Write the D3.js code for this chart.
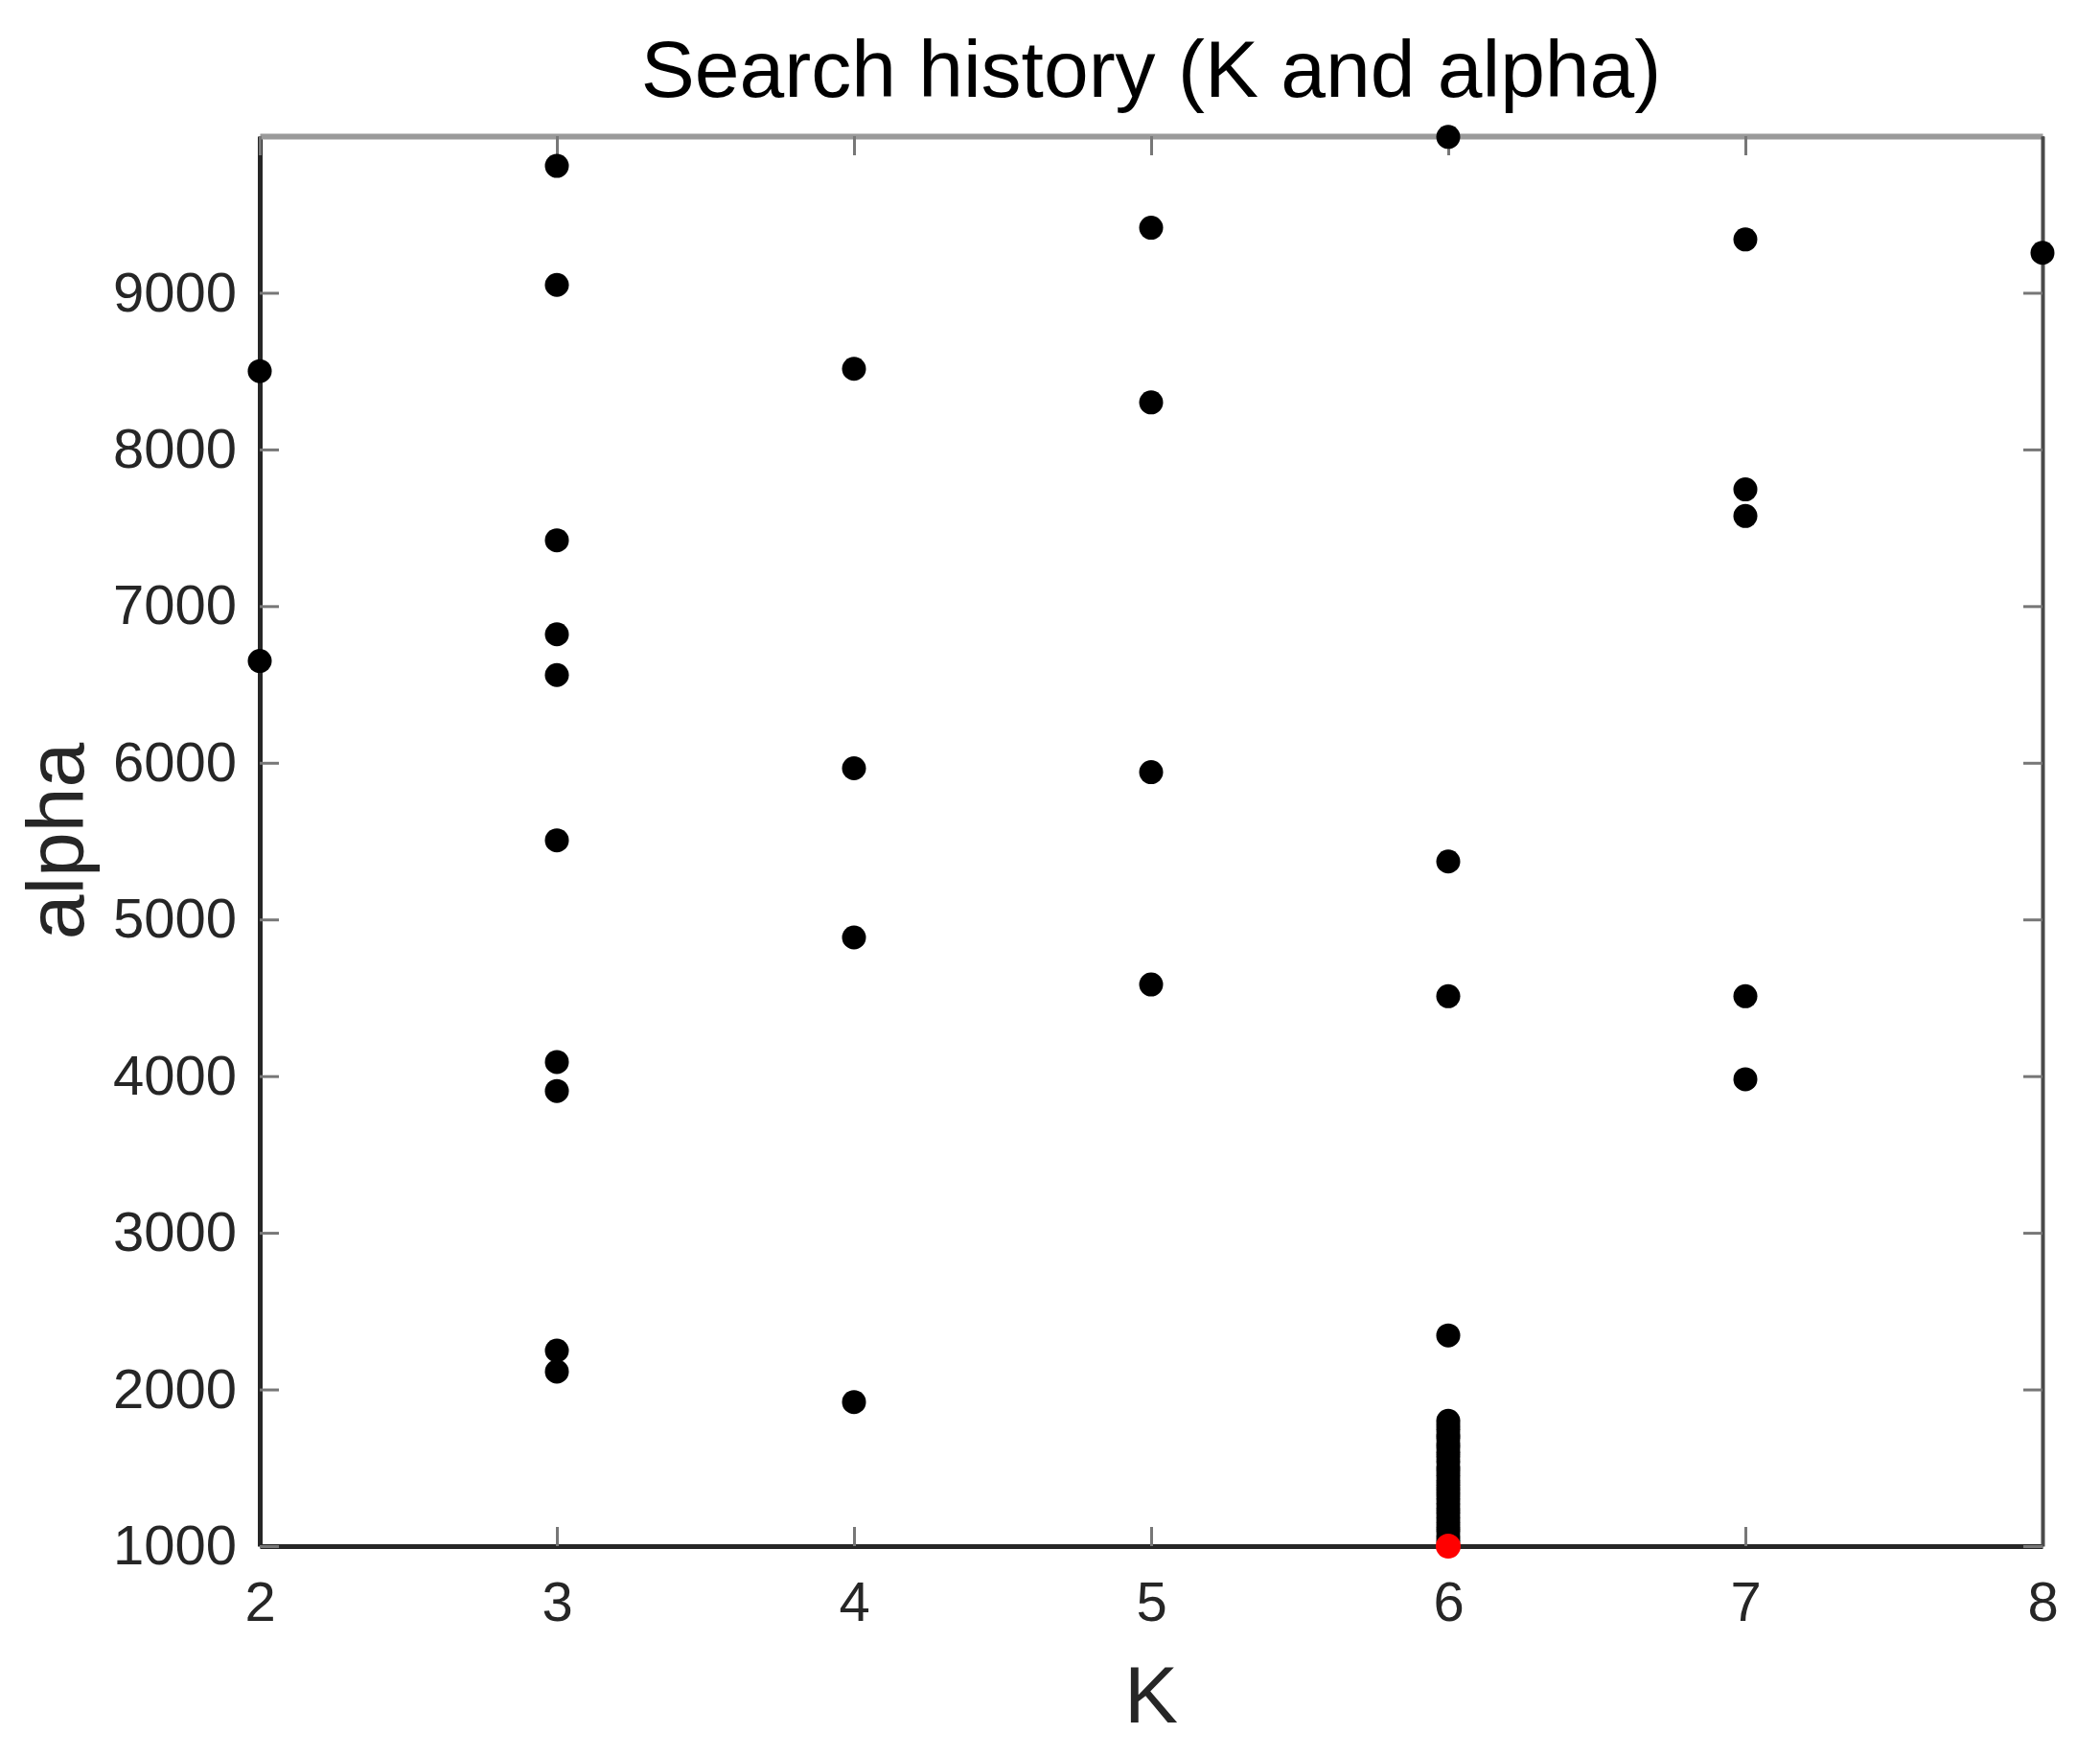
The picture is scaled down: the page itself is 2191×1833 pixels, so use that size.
<!DOCTYPE html>
<html lang="en">
<head>
  <meta charset="UTF-8" />
  <title>Search history (K and alpha)</title>

  <!-- D3.js from a CDN (version 7) -->
  <script src="https://d3js.org/d3.v7.min.js"></script>

  <style>
    html, body {
      margin: 0;
      padding: 0;
      background: #fff;
      overflow: hidden;
      font-family: "Liberation Sans", Arial, sans-serif;
    }
  </style>
</head>
<body>
  <div id="chart"></div>

  <script>
    /**************************************************************
     *                        DATA
     **************************************************************/
    // alpha values tried for each K
    const alphaK2 = [8500, 6650];
    const alphaK3 = [9810, 9050, 7420, 6820, 6560, 5505, 4090, 3905, 2248, 2114];
    const alphaK4 = [8515, 5965, 4885, 1920];
    const alphaK5 = [9415, 8300, 5940, 4585];
    const alphaK6 = [9995, 5370, 4510, 2345,
                     1800, 1772, 1745, 1712, 1690, 1655, 1630, 1598, 1570,
                     1540, 1505, 1480, 1450, 1418, 1390, 1360, 1330, 1302,
                     1270, 1240, 1212, 1180, 1150, 1120, 1095, 1062, 1035];
    const alphaK7 = [9340, 7745, 7575, 4510, 3980];
    const alphaK8 = [9255];

    // best point found (drawn in red)
    const bestK = 6;
    const bestAlpha = 1000;

    // axis ticks
    const xTicks = [2, 3, 4, 5, 6, 7, 8];
    const yTicks = [1000, 2000, 3000, 4000, 5000, 6000, 7000, 8000, 9000];

    // flatten to {k, alpha} records
    const history = [];
    [[2, alphaK2], [3, alphaK3], [4, alphaK4], [5, alphaK5],
     [6, alphaK6], [7, alphaK7], [8, alphaK8]].forEach(([k, list]) => {
      list.forEach(a => history.push({ k: k, alpha: a }));
    });

    /**************************************************************
     *                        LAYOUT
     **************************************************************/
    const width = 2191;
    const height = 1833;
    const margin = { top: 142, right: 60, bottom: 220, left: 271 };
    const innerW = width - margin.left - margin.right;
    const innerH = height - margin.top - margin.bottom;

    const axisColor = "#262626";
    const tickLen = 20;

    const svg = d3.select("#chart")
      .append("svg")
      .attr("width", width)
      .attr("height", height)
      .style("display", "block")
      .style("background", "#fff");

    const g = svg.append("g")
      .attr("transform", `translate(${margin.left},${margin.top})`);

    const x = d3.scaleLinear().domain([2, 8]).range([0, innerW]);
    const y = d3.scaleLinear().domain([1000, 10000]).range([innerH, 0]);

    /**************************************************************
     *                        AXES (MATLAB style box)
     **************************************************************/
    // bottom axis
    const xAxis = g.append("g")
      .attr("transform", `translate(0,${innerH})`)
      .call(d3.axisBottom(x).tickValues(xTicks).tickFormat(d3.format("d"))
        .tickSizeInner(-tickLen).tickSizeOuter(0).tickPadding(37));

    // left axis (labels sit ~24px left of the box)
    const yAxis = g.append("g")
      .call(d3.axisLeft(y).tickValues(yTicks).tickFormat(d3.format("d"))
        .tickSizeInner(-tickLen).tickSizeOuter(0).tickPadding(24));

    // top + right mirror ticks (no labels)
    const xTop = g.append("g")
      .call(d3.axisTop(x).tickValues(xTicks).tickFormat("")
        .tickSizeInner(-tickLen).tickSizeOuter(0));

    const yRight = g.append("g")
      .attr("transform", `translate(${innerW},0)`)
      .call(d3.axisRight(y).tickValues(yTicks).tickFormat("")
        .tickSizeInner(-tickLen).tickSizeOuter(0));

    [xAxis, yAxis, xTop, yRight].forEach(a => {
      a.selectAll(".tick line").attr("stroke", "#777").attr("stroke-width", 3);
      a.selectAll(".tick text")
        .attr("fill", axisColor)
        .style("font-family", "'Liberation Sans', Arial, sans-serif")
        .style("font-size", "58px");
    });

    xAxis.select(".domain").attr("stroke", axisColor).attr("stroke-width", 5);
    yAxis.select(".domain").attr("stroke", axisColor).attr("stroke-width", 5);
    xTop.select(".domain").attr("stroke", "#9a9a9a").attr("stroke-width", 6);
    yRight.select(".domain").attr("stroke", "#4a4a4a").attr("stroke-width", 4);

    /**************************************************************
     *                        POINTS
     **************************************************************/
    g.selectAll("circle.hist")
      .data(history)
      .enter()
      .append("circle")
      .attr("class", "hist")
      .attr("cx", d => x(d.k))
      .attr("cy", d => y(d.alpha))
      .attr("r", 12.5)
      .attr("fill", "#000");

    g.append("circle")
      .datum({ k: bestK, alpha: bestAlpha })
      .attr("cx", d => x(d.k))
      .attr("cy", d => y(d.alpha))
      .attr("r", 13)
      .attr("fill", "#ff0000");

    /**************************************************************
     *                        LABELS
     **************************************************************/
    svg.append("text")
      .attr("x", margin.left + innerW / 2)
      .attr("y", 101)
      .attr("text-anchor", "middle")
      .attr("fill", "#000")
      .style("font-size", "84px")
      .text("Search history (K and alpha)");

    svg.append("text")
      .attr("x", margin.left + innerW / 2)
      .attr("y", 1797)
      .attr("text-anchor", "middle")
      .attr("fill", axisColor)
      .style("font-size", "84px")
      .text("K");

    svg.append("text")
      .attr("transform", `translate(87,${margin.top + innerH / 2}) rotate(-90)`)
      .attr("text-anchor", "middle")
      .attr("fill", axisColor)
      .style("font-size", "84px")
      .text("alpha");
  </script>
</body>
</html>
